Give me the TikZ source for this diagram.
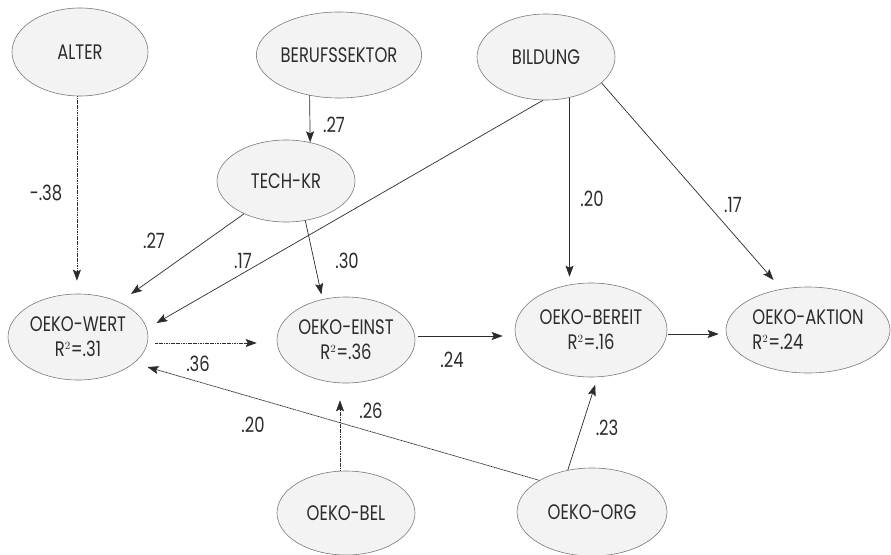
\documentclass[tikz,border=0pt]{standalone}
\usepackage{fontspec}
\setmainfont{Poppins}[FakeStretch=0.78]
\usetikzlibrary{shapes.geometric,arrows.meta,calc}
\definecolor{ink}{HTML}{2C2C2C}
\definecolor{edge}{HTML}{7A7A7A}
\definecolor{fillc}{HTML}{F3F3F3}
\begin{document}
\begin{tikzpicture}[x=1pt,y=-1pt,
  var/.style={ellipse,draw=edge,fill=fillc,line width=0.6pt,inner sep=0pt,
    text=ink,font=\fontsize{21}{25}\selectfont,align=center},
  arr/.style={draw=ink,line width=0.7pt,-{Stealth[length=11pt,width=8pt,inset=2pt]}},
  faint/.style={dash pattern=on 1.2pt off 0.5pt},
  lab/.style={text=ink,font=\fontsize{21}{25}\selectfont,inner sep=0pt}]
\useasboundingbox (0,0) rectangle (891,554);
\fill[white] (0,0) rectangle (891,554);
% nodes
\node[var,minimum width=136pt,minimum height=88pt] (alter) at (80,52) {ALTER};
\node[var,minimum width=162pt,minimum height=86pt] (beruf) at (339,55) {BERUFSSEKTOR};
\node[var,minimum width=138pt,minimum height=86pt] (bild) at (546,57) {BILDUNG};
\node[var,minimum width=138pt,minimum height=82pt] (tech) at (286,181) {TECH-KR};
\node[var,minimum width=140pt,minimum height=86pt] (wert) at (78,337) {OEKO-WERT\\R$^{\scriptscriptstyle 2}$=.31};
\node[var,minimum width=138pt,minimum height=86pt] (einst) at (346,340) {OEKO-EINST\\R$^{\scriptscriptstyle 2}$=.36};
\node[var,minimum width=152pt,minimum height=94pt] (bereit) at (591,330) {OEKO-BEREIT\\R$^{\scriptscriptstyle 2}$=.16};
\node[var,minimum width=164pt,minimum height=86pt,align=left] (aktion) at (808,330) {OEKO-AKTION\\R$^{\scriptscriptstyle 2}$=.24};
\node[var,minimum width=138pt,minimum height=84pt] (bel) at (346,513) {OEKO-BEL};
\node[var,minimum width=150pt,minimum height=88pt] (org) at (592,512) {OEKO-ORG};
% connectors
\draw[arr,faint,shorten >=13pt] (alter.266) -- (alter.266 |- wert.north);
\draw[arr] (beruf.234) -- (tech.58);
\draw[arr,shorten >=14pt] (tech.218) -- (wert.40);
\draw[arr,shorten >=11pt] (bild.266) -- (wert.7.5);
\draw[arr,shorten >=5pt] (tech.296) -- (einst.120);
\draw[arr,shorten >=6pt] (bild.300) -- (bild.300 |- bereit.north);
\draw[arr,shorten >=12pt] (bild.335.5) -- (aktion.123.6);
\draw[arr,faint,shorten <=7pt,shorten >=20pt] ([yshift=-6pt]wert.east) -- ([yshift=-6pt]wert.east -| einst.west);
\draw[arr,shorten <=3pt,shorten >=12pt] ([yshift=4pt]einst.east) -- ([yshift=4pt]einst.east -| bereit.west);
\draw[arr,shorten <=1pt,shorten >=7pt] ([yshift=-4pt]bereit.east) -- ([yshift=-4pt]bereit.east -| aktion.west);
\draw[arr,faint,shorten >=17pt] ([xshift=-6pt]bel.north) -- ([xshift=-6pt]bel.north |- einst.south);
\draw[arr,faint,shorten >=14pt] (org.149.3) -- (wert.335);
\draw[arr,shorten >=8pt] (org.120.8) -- (bereit.278);
% labels
\node[lab] (l1) at (46,193) {-.38};
\node[lab] (l2) at (334,125) {.27};
\node[lab] (l3) at (154,241) {.27};
\node[lab] (l4) at (243,261) {.17};
\node[lab] (l5) at (347,261) {.30};
\node[lab] (l6) at (592,199) {.20};
\node[lab] (l7) at (733,205) {.17};
\node[lab] (l8) at (198,364) {.36};
\node[lab] (l9) at (452,360) {.24};
\node[lab] (l10) at (371,411) {.26};
\node[lab] (l11) at (253,425) {.20};
\node[lab] (l12) at (607,428) {.23};
\end{tikzpicture}
\end{document}
